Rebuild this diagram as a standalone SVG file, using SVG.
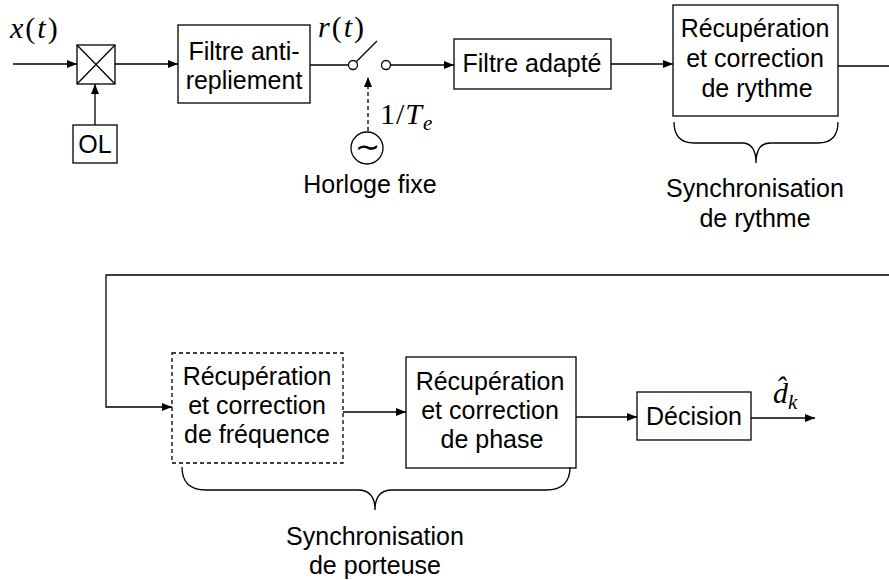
<svg xmlns="http://www.w3.org/2000/svg" width="889" height="580" viewBox="0 0 889 580">
<style>
.box{fill:#fff;stroke:#000;stroke-width:1.3}
.dash{stroke-dasharray:4 3}
.ln{fill:none;stroke:#000;stroke-width:1.3}
.t{font-family:"Liberation Sans",Arial,sans-serif;font-size:25px;text-anchor:middle;fill:#000}
.m{font-family:"Liberation Serif","Times New Roman",serif;font-size:30px;fill:#000}
.i{font-style:italic}
</style>
<defs>
<marker id="arr" markerUnits="userSpaceOnUse" markerWidth="10" markerHeight="8" refX="10" refY="4" orient="auto">
<path d="M0,0 L10,4 L0,8 z" fill="#000"/>
</marker>
</defs>
<rect width="889" height="580" fill="#fff"/>

<g id="connectors">
<path class="ln" d="M13,64 H77" marker-end="url(#arr)"/>
<path class="ln" d="M115,64 H178" marker-end="url(#arr)"/>
<path class="ln" d="M95,125 V84" marker-end="url(#arr)"/>
<path class="ln" d="M310,65 H348"/>
<path class="ln" d="M391,65 H454" marker-end="url(#arr)"/>
<path class="ln" d="M611,64 H673" marker-end="url(#arr)"/>
<path class="ln" d="M838,66 H900 V275 H106 V407 H172" marker-end="url(#arr)"/>
<path class="ln" d="M343,412 H406" marker-end="url(#arr)"/>
<path class="ln" d="M576,417 H637" marker-end="url(#arr)"/>
<path class="ln" d="M751,418 H815" marker-end="url(#arr)"/>
<path class="ln dash" d="M368,131 V77" marker-end="url(#arr)"/>
</g>

<g id="input-label">
<text class="m" x="10" y="38" letter-spacing="2"><tspan class="i">x</tspan>(<tspan class="i">t</tspan>)</text>
</g>

<g id="mixer">
<rect class="box" x="77" y="45" width="38" height="39"/>
<path class="ln" d="M77,45 L115,84 M115,45 L77,84"/>
</g>

<g id="ol">
<rect class="box" x="73" y="125" width="44" height="38"/>
<text class="t" x="95" y="153">OL</text>
</g>

<g id="filtre-anti">
<rect class="box" x="178" y="25" width="132" height="78"/>
<text class="t" x="244" y="60">Filtre anti-</text>
<text class="t" x="244" y="89">repliement</text>
</g>

<g id="switch">
<circle class="ln" cx="353" cy="65" r="4.5" fill="#fff"/>
<path class="ln" d="M356,62 L377,41"/>
<circle class="ln" cx="386" cy="65" r="4.5" fill="#fff"/>
<text class="m" x="318" y="37" letter-spacing="2"><tspan class="i">r</tspan>(<tspan class="i">t</tspan>)</text>
<text class="m" x="380" y="124" letter-spacing="1">1/<tspan class="i">T</tspan><tspan class="i" font-size="21" dy="6">e</tspan></text>
</g>

<g id="horloge">
<circle class="ln" cx="367" cy="148" r="16"/>
<text class="m" x="367" y="157" text-anchor="middle">∼</text>
<text class="t" x="370" y="193">Horloge fixe</text>
</g>

<g id="filtre-adapte">
<rect class="box" x="454" y="39" width="157" height="50"/>
<text class="t" x="532" y="72">Filtre adapté</text>
</g>

<g id="recup-rythme">
<rect class="box" x="673" y="5" width="165" height="111"/>
<text class="t" x="755" y="37">Récupération</text>
<text class="t" x="755" y="67">et correction</text>
<text class="t" x="757" y="97">de rythme</text>
</g>

<g id="sync-rythme">
<path class="ln" d="M674,122 C674,136 680,143 694,143 H742 C752,143 756,150 756,163 C756,150 760,143 770,143 H818 C832,143 838,136 838,122"/>
<text class="t" x="755" y="197">Synchronisation</text>
<text class="t" x="755" y="227">de rythme</text>
</g>

<g id="recup-frequence">
<rect class="box dash" x="172" y="353" width="171" height="110"/>
<text class="t" x="257" y="385">Récupération</text>
<text class="t" x="257" y="414">et correction</text>
<text class="t" x="257" y="443">de fréquence</text>
</g>

<g id="recup-phase">
<rect class="box" x="406" y="357" width="170" height="111"/>
<text class="t" x="490" y="390">Récupération</text>
<text class="t" x="490" y="419">et correction</text>
<text class="t" x="492" y="448">de phase</text>
</g>

<g id="sync-porteuse">
<path class="ln" d="M182,467 C182,482 190,490 206,490 H358 C370,490 375,497 375,510 C375,497 380,490 392,490 H546 C562,490 570,482 570,467"/>
<text class="t" x="375" y="545">Synchronisation</text>
<text class="t" x="375" y="574">de porteuse</text>
</g>

<g id="decision">
<rect class="box" x="637" y="392" width="114" height="48"/>
<text class="t" x="694" y="425">Décision</text>
</g>

<g id="output-label">
<text class="m" x="773" y="403"><tspan class="i">d̂</tspan><tspan class="i" font-size="21" dy="6">k</tspan></text>
</g>
</svg>
